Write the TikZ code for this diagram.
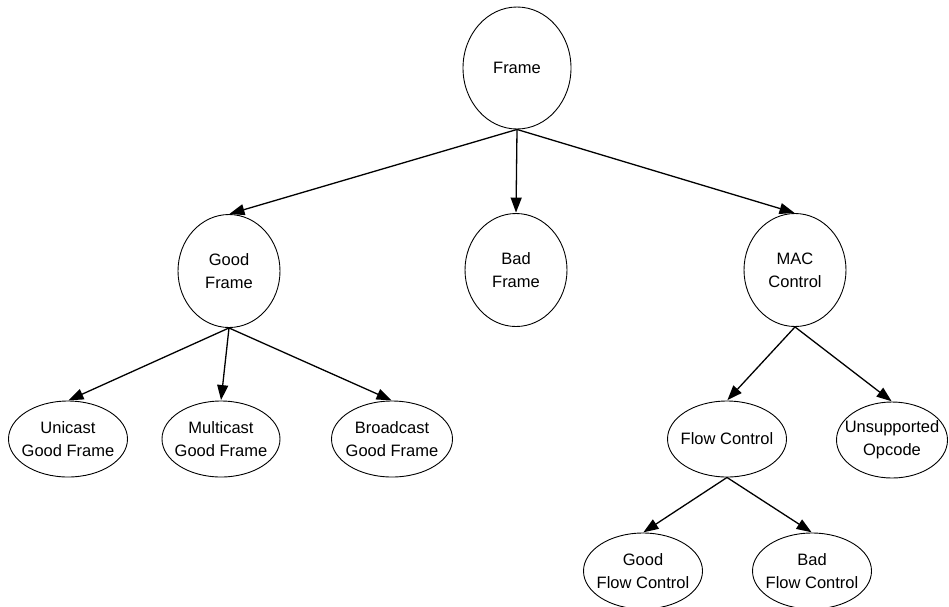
\documentclass[tikz,border=0pt]{standalone}
\usepackage{fontspec}
\setmainfont{Liberation Sans}
\usetikzlibrary{shapes.geometric,arrows.meta}

\tikzset{
  % the outline size is set by minimum width/height alone (negative inner sep)
  state/.style={draw, ellipse, line width=0.9pt, inner xsep=-60pt, inner ysep=-40pt,
    align=center, font=\fontsize{16.5}{23}\selectfont},
  link/.style={line width=1.3pt, -{Triangle[length=15pt,width=11pt]}, shorten >=0.5pt}
}

\begin{document}
\begin{tikzpicture}[x=1pt, y=-1pt]
\useasboundingbox (0,0) rectangle (949,606);

% top level
\node[state, minimum width=108pt, minimum height=122pt] (frame) at (517,68) {Frame};

% second level
\node[state, minimum width=102pt, minimum height=113pt] (good) at (229,271) {Good\\Frame};
\node[state, minimum width=102pt, minimum height=113pt] (bad)  at (516,270) {Bad\\Frame};
\node[state, minimum width=102pt, minimum height=113pt] (mac)  at (795,270) {MAC\\Control};

% good frame kinds
\node[state, minimum width=119pt, minimum height=76pt] (uni)   at (68,439)  {Unicast\\Good Frame};
\node[state, minimum width=118pt, minimum height=76pt] (multi) at (221,439) {Multicast\\Good Frame};
\node[state, minimum width=121pt, minimum height=76pt] (broad) at (392,439) {Broadcast\\Good Frame};

% MAC control kinds
\node[state, minimum width=119pt, minimum height=76pt] (flow)  at (727,439) {Flow Control};
\node[state, minimum width=111pt, minimum height=76pt] (unsup) at (892,440) {Unsupported\\Opcode};

% flow control kinds
\node[state, minimum width=119pt, minimum height=76pt] (gfc) at (643,571) {Good\\Flow Control};
\node[state, minimum width=119pt, minimum height=76pt] (bfc) at (812,571) {Bad\\Flow Control};

% connectors
\draw[link] (frame.south) -- (good.north);
\draw[link] (frame.south) -- (bad.north);
\draw[link] (frame.south) -- (mac.north);

\draw[link] (good.south) -- (uni.north);
\draw[link] (good.south) -- (multi.north);
\draw[link] (good.south) -- (broad.north);

\draw[link] (mac.south) -- (flow.north);
\draw[link] (mac.south) -- (unsup.north);

\draw[link] (flow.south) -- (gfc.north);
\draw[link] (flow.south) -- (bfc.north);
\end{tikzpicture}
\end{document}
